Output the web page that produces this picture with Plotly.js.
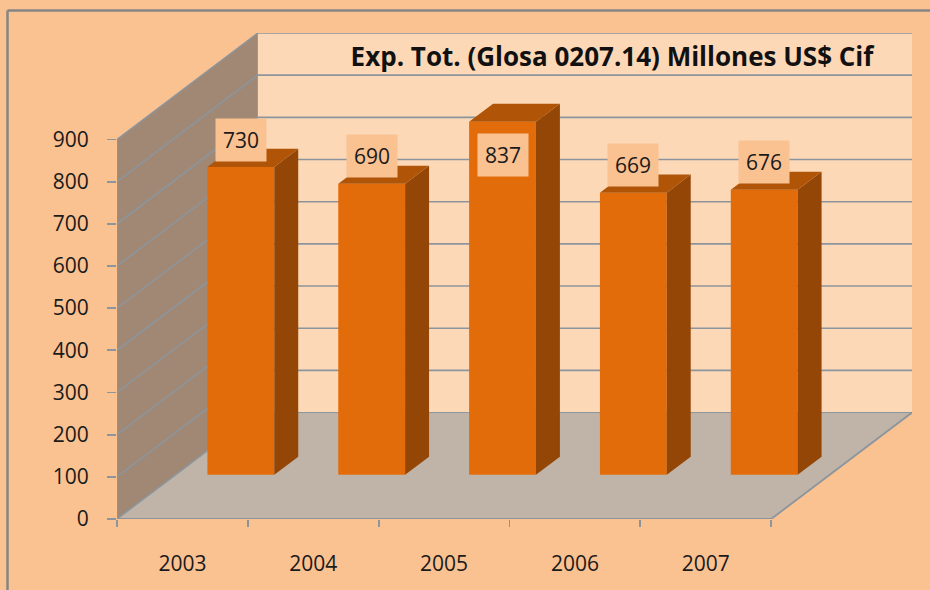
<!DOCTYPE html>
<html>
<head>
<meta charset="utf-8">
<script src="https://cdn.plot.ly/plotly-3.0.1.min.js"></script>
<style>html,body{margin:0;padding:0;background:#FAC191;}#chart{width:930px;height:590px;}</style>
</head>
<body>
<div id="chart"></div>
<script>
// ---- data ----
const years = [2003, 2004, 2005, 2006, 2007];
const values = [730, 690, 837, 669, 676];
const yTickVals = [0, 100, 200, 300, 400, 500, 600, 700, 800, 900];
const yMax = 900;
const titleText = "Exp. Tot. (Glosa 0207.14) Millones US$ Cif";

// ---- 3D (oblique) geometry, style constants ----
const DX = 1.0763;   // depth offset along x (category units)
const DY = 252.4;    // depth offset along y (value units)
const F0 = 0.415;    // depth fraction of bar front face
const FD = 0.17;     // bar depth fraction
const BAR_W = 0.511; // bar width (category units)

const C = {
  paper: '#FAC191', back: '#FDD8B6', left: '#A08875', floor: '#C0B3A7',
  grid: '#8C959D', front: '#E36C0A', side: '#944606', top: '#B05508', border: '#858585'
};

const xL = years[0] - 0.5, xR = years[years.length - 1] + 0.5;
const base = F0 * DY;
const fx = F0 * DX;
const ddx = FD * DX, ddy = FD * DY;

function poly(pts) { return 'M ' + pts.map(p => p[0] + ',' + p[1]).join(' L ') + ' Z'; }

const shapes = [];
// back wall
shapes.push({type: 'path', xref: 'x', yref: 'y', layer: 'below', line: {width: 0}, fillcolor: C.back,
  path: poly([[xL + DX, DY], [xR + DX, DY], [xR + DX, yMax + DY], [xL + DX, yMax + DY]])});
// left wall
shapes.push({type: 'path', xref: 'x', yref: 'y', layer: 'below', line: {width: 0}, fillcolor: C.left,
  path: poly([[xL, 0], [xL + DX, DY], [xL + DX, yMax + DY], [xL, yMax]])});
// floor
shapes.push({type: 'path', xref: 'x', yref: 'y', layer: 'below', line: {width: 0}, fillcolor: C.floor,
  path: poly([[xL, 0], [xR, 0], [xR + DX, DY], [xL + DX, DY]])});
// gridlines on back wall and left wall
yTickVals.forEach(v => {
  shapes.push({type: 'line', xref: 'x', yref: 'y', layer: 'below', line: {color: C.grid, width: v === 0 ? 1 : 1.6},
    x0: xL + DX, x1: xR + DX, y0: v + DY, y1: v + DY});
  shapes.push({type: 'line', xref: 'x', yref: 'y', layer: 'below', line: {color: C.grid, width: 1.5},
    x0: xL, x1: xL + DX, y0: v, y1: v + DY});
});
// axis edges
shapes.push({type: 'line', xref: 'x', yref: 'y', layer: 'below', line: {color: C.grid, width: 1.8}, x0: xL, x1: xL, y0: 0, y1: yMax});
shapes.push({type: 'line', xref: 'x', yref: 'y', layer: 'below', line: {color: C.grid, width: 1.8}, x0: xL, x1: xR, y0: 0, y1: 0});
shapes.push({type: 'line', xref: 'x', yref: 'y', layer: 'below', line: {color: C.grid, width: 1.8}, x0: xR, x1: xR + DX, y0: 0, y1: DY});
// outer frame (top and left)
const pw = 795, ph = 486, ml = 117, mt = 33;
const pxX = px => (px - ml) / pw;
const pxY = py => (mt + ph - py) / ph;
shapes.push({type: 'line', xref: 'paper', yref: 'paper', line: {color: C.border, width: 2.5},
  x0: pxX(7.5), x1: pxX(930), y0: pxY(10.5), y1: pxY(10.5)});
shapes.push({type: 'line', xref: 'paper', yref: 'paper', line: {color: C.border, width: 2.5},
  x0: pxX(7.5), x1: pxX(7.5), y0: pxY(10.5), y1: pxY(590)});

// bar side and top faces
const sideX = [], sideY = [], topX = [], topY = [];
years.forEach((yr, i) => {
  const l = yr + fx - BAR_W / 2, r = yr + fx + BAR_W / 2;
  const t = base + values[i];
  sideX.push(r, r, r + ddx, r + ddx, null);
  sideY.push(base, t, t + ddy, base + ddy, null);
  topX.push(l, r, r + ddx, l + ddx, null);
  topY.push(t, t, t + ddy, t + ddy, null);
});

const traces = [
  {type: 'bar', x: years, y: values, base: years.map(() => base), width: BAR_W, offset: fx - BAR_W / 2,
   marker: {color: C.front, line: {width: 0}}, hoverinfo: 'skip', showlegend: false},
  {type: 'scatter', mode: 'lines', x: sideX, y: sideY, fill: 'toself', fillcolor: C.side,
   line: {width: 0, color: C.side}, hoverinfo: 'skip', showlegend: false},
  {type: 'scatter', mode: 'lines', x: topX, y: topY, fill: 'toself', fillcolor: C.top,
   line: {width: 0, color: C.top}, hoverinfo: 'skip', showlegend: false}
];

// value labels: above the bar unless that would reach the title band
const annotations = years.map((yr, i) => {
  const t = base + values[i];
  const outside = (t + 65 + 50) < (yMax + DY - 100);
  return {x: yr + fx, y: outside ? t + 65 : t - 78, xref: 'x', yref: 'y', text: String(values[i]),
    showarrow: false, bgcolor: C.paper, borderpad: 7,
    font: {family: 'Open Sans', size: 21, color: '#1a1a1a'}};
});

const layout = {
  width: 930, height: 590,
  margin: {l: ml, r: 930 - ml - pw, t: mt, b: 590 - mt - ph},
  paper_bgcolor: C.paper, plot_bgcolor: 'rgba(0,0,0,0)',
  showlegend: false,
  title: {text: '<b>' + titleText + '</b>', x: 612 / 930, xanchor: 'center', xref: 'container',
          y: 1 - 57 / 590, yanchor: 'middle', yref: 'container',
          font: {family: 'Open Sans', size: 26, color: '#111'}},
  xaxis: {type: 'linear', range: [xL, xR + DX], tickvals: years, ticktext: years.map(String),
    ticks: '', showgrid: false, zeroline: false, showline: false, fixedrange: true,
    ticklabelstandoff: 30,
    tickfont: {family: 'Open Sans', size: 21, color: '#1a1a1a'},
    minor: {tickvals: years.map(y => y - 0.5).concat([xR]), ticks: 'outside', ticklen: 7, tickwidth: 1.8, tickcolor: C.grid, showgrid: false}},
  yaxis: {type: 'linear', range: [0, yMax + DY], tickvals: yTickVals, ticks: 'outside', ticklen: 9,
    tickwidth: 1.8, tickcolor: C.grid, showgrid: false, zeroline: false, showline: false, fixedrange: true,
    ticklabelstandoff: 14,
    tickfont: {family: 'Open Sans', size: 21, color: '#1a1a1a'}},
  shapes: shapes,
  annotations: annotations
};

Plotly.newPlot('chart', traces, layout, {displayModeBar: false, staticPlot: true});
</script>
</body>
</html>
